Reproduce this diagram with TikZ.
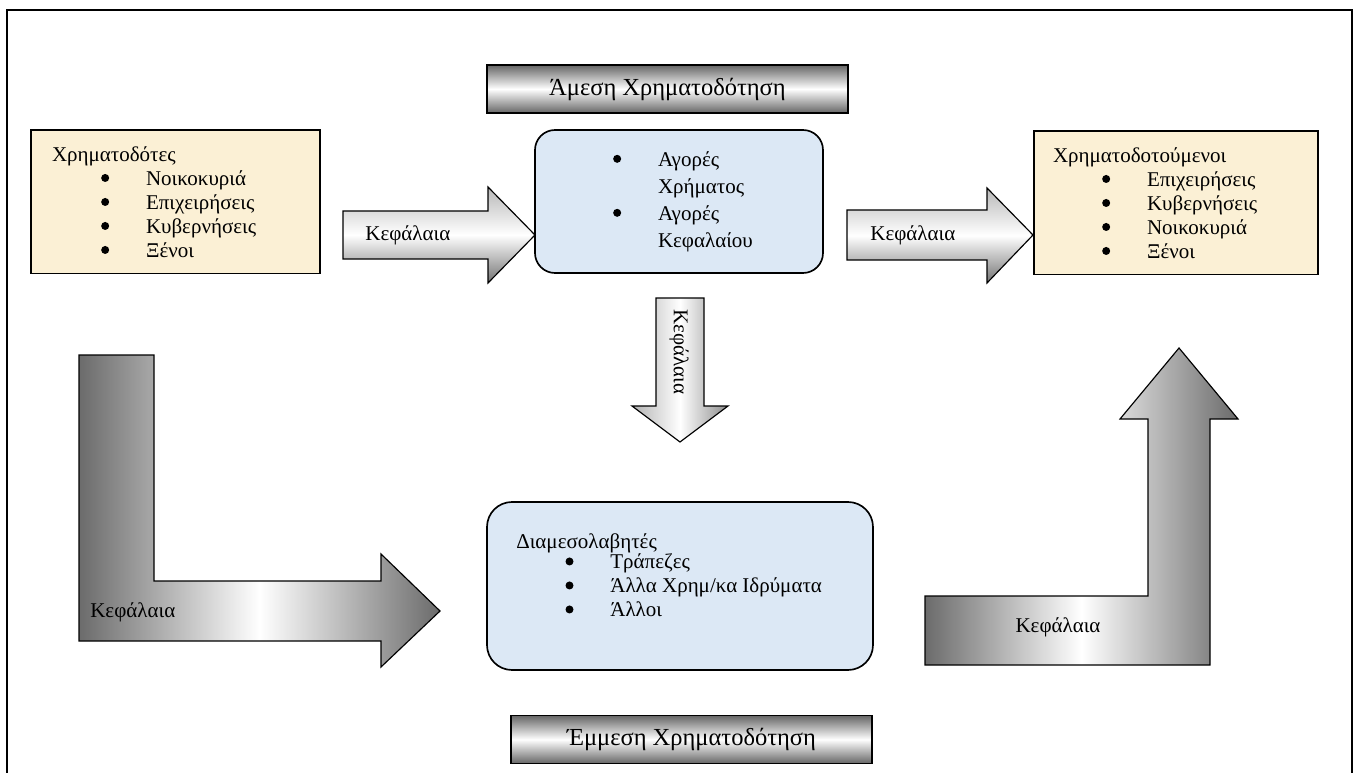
\documentclass[tikz,border=0pt]{standalone}
\usepackage{fontspec}
\setmainfont{Liberation Serif}
\usetikzlibrary{positioning}
\definecolor{beige}{RGB}{251,240,213}
\definecolor{sky}{RGB}{220,232,245}
\newcommand{\itembul}[1]{\hspace*{29.5pt}\makebox[26.9pt][l]{\tikz[baseline=-4.4pt]\fill (0,0) circle (2.4pt);}#1}
\tikzset{
  % πλαίσια
  party/.style={draw=black, line width=1pt, fill=beige, align=left, minimum height=86pt},
  market/.style={draw=black, line width=1pt, fill=sky, rounded corners=12pt, align=left},
  banner/.style={draw=black, line width=0.9pt, top color=black!60, bottom color=black!60,
    middle color=white, minimum width=216.6pt, minimum height=28.8pt, font=\fontsize{14.7}{16}\selectfont},
  % βέλη
  flowh/.style={draw=black, line width=0.7pt, top color=black!28, bottom color=black!55, middle color=white},
  flowv/.style={draw=black, line width=0.7pt, left color=black!30, right color=black!45, middle color=white},
  flowl/.style={draw=black, line width=0.7pt, left color=black!58, right color=black!58, middle color=white},
  lbl/.style={inner sep=0pt}
}
\begin{document}
\begin{tikzpicture}[x=0.6pt, y=-0.6pt, font=\fontsize{12.6}{14.4}\selectfont]
  \useasboundingbox (0,0) rectangle (1355,773);
  % περίγραμμα
  \draw[line width=1.2pt] (7,790) -- (7,10) -- (1352,10) -- (1352,790);

  \node[banner] (direct) at (667.5,89) {Άμεση Χρηματοδότηση};
  \node[banner] (indirect) at (691.5,739.5) {Έμμεση Χρηματοδότηση};

  \node[party, text width=148.2pt, inner xsep=12.6pt] (lenders) at (175.5,202)
    {Χρηματοδότες\\ \itembul{Νοικοκυριά}\\ \itembul{Επιχειρήσεις}\\ \itembul{Κυβερνήσεις}\\ \itembul{Ξένοι}};
  \node[party, text width=147.6pt, inner xsep=11.4pt] (borrowers) at (1176,203)
    {Χρηματοδοτούμενοι\\ \itembul{Επιχειρήσεις}\\ \itembul{Κυβερνήσεις}\\ \itembul{Νοικοκυριά}\\ \itembul{Ξένοι}};
  \node[market, text width=138pt, inner xsep=17.4pt, minimum height=85.8pt,
    font=\fontsize{12.6}{16.2}\selectfont] (markets) at (679,201.5)
    {\itembul{Αγορές}\\ \hspace*{56.4pt}Χρήματος\\ \itembul{Αγορές}\\ \hspace*{56.4pt}Κεφαλαίου};
  \node[market, rounded corners=15pt, minimum width=231.6pt, minimum height=100.8pt] (brokers) at (680,586) {};
  \node[lbl, align=left, anchor=north west] (brokerlist) at (516,533)
    {Διαμεσολαβητές\\[-2pt] \itembul{Τράπεζες}\\ \itembul{Άλλα Χρημ/κα Ιδρύματα}\\ \itembul{Άλλοι}};

  % βέλη κεφαλαίων
  \path[flowh] (343,211) -- (488,211) -- (488,187) -- (535,235) -- (488,283) -- (488,259) -- (343,259) -- cycle;
  \node[lbl, anchor=west] (fundsA) at (365,235) {Κεφάλαια};
  \path[flowh] (847,210) -- (987,210) -- (987,188) -- (1033,235) -- (987,283) -- (987,260) -- (847,260) -- cycle;
  \node[lbl, anchor=west] (fundsB) at (870,235) {Κεφάλαια};
  \path[flowv] (656,298) -- (704,298) -- (704,406) -- (728,406) -- (680,442) -- (632,406) -- (656,406) -- cycle;
  \node[lbl, rotate=-90] (fundsC) at (679,352) {Κεφάλαια};
  \path[flowl] (79,355) -- (154,355) -- (154,581) -- (381,581) -- (381,554) -- (440,611) -- (381,667)
    -- (381,641) -- (79,641) -- cycle;
  \node[lbl, anchor=west] (fundsD) at (90,612) {Κεφάλαια};
  \path[flowl] (925,596) -- (1148,596) -- (1148,419) -- (1120,419) -- (1179,348) -- (1238,419) -- (1210,419)
    -- (1210,665) -- (925,665) -- cycle;
  \node[lbl] (fundsE) at (1058,627) {Κεφάλαια};
\end{tikzpicture}
\end{document}
